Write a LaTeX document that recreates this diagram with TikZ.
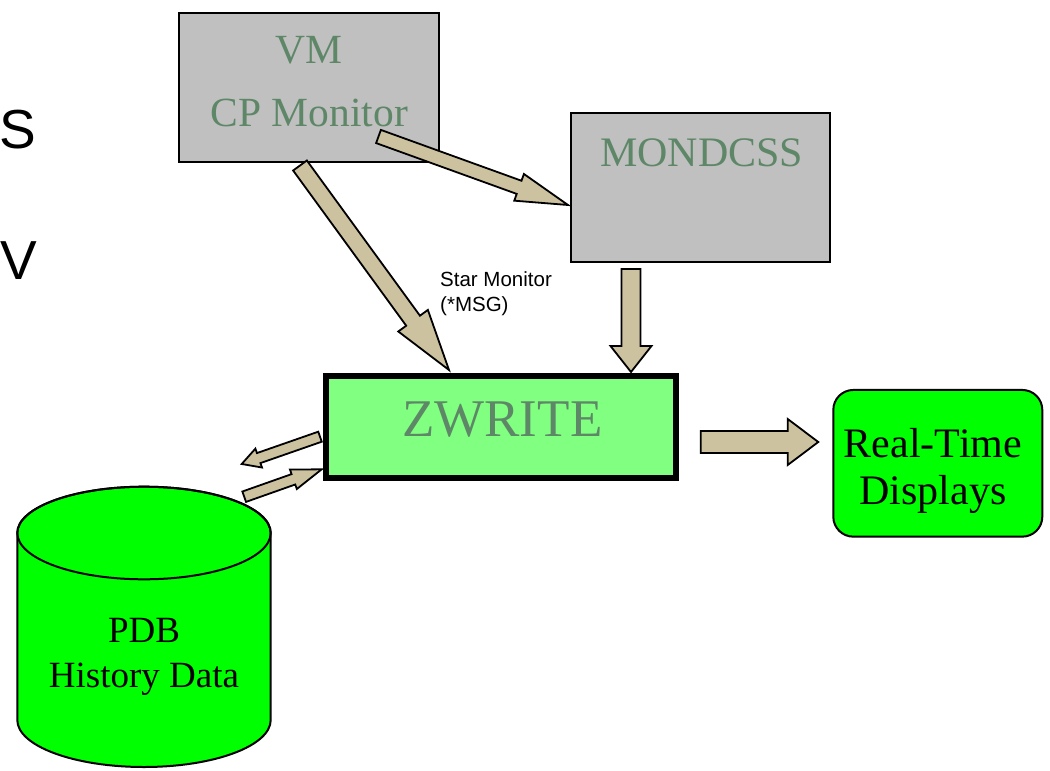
\documentclass[tikz,border=0pt]{standalone}
\usepackage{fontspec}
\setmainfont{Liberation Serif}
\newfontfamily\arialfont{Liberation Sans}
\usetikzlibrary{calc}
\definecolor{boxgray}{RGB}{192,192,192}
\definecolor{labelgreen}{RGB}{94,135,104}
\definecolor{arrowtan}{RGB}{204,194,160}
\definecolor{zwgreen}{RGB}{128,255,128}
\definecolor{brightgreen}{RGB}{0,255,0}
\newcommand{\thinline}{2pt}
% block arrow: start, tip, half shaft, half head, head length
\newcommand{\fatarrow}[5]{%
  \coordinate (fa-b) at ($(#2)!#5!(#1)$);
  \draw[arrowbody] ($(#1)!#3!90:(#2)$) -- ($(fa-b)!#3!90:(#2)$) -- ($(fa-b)!#4!90:(#2)$) -- (#2)
    -- ($(fa-b)!#4!-90:(#2)$) -- ($(fa-b)!#3!-90:(#2)$) -- ($(#1)!#3!-90:(#2)$) -- cycle;
}

\begin{document}
\begin{tikzpicture}[x=1pt, y=-1pt,
    graybox/.style={draw, line width=\thinline, fill=boxgray, inner sep=0},
    boxtext/.style={text=labelgreen, inner sep=0, align=center},
    arrowbody/.style={draw, line width=1.8pt, fill=arrowtan, line join=miter}]
    \useasboundingbox (0,0) rectangle (1050,771);

    % title letters at the left edge
    \node[inner sep=0, font=\arialfont\fontsize{55}{60}\selectfont, anchor=north west] (sletter) at (-0.5,110) {S};
    \node[inner sep=0, font=\arialfont\fontsize{55}{60}\selectfont, anchor=north west] (vletter) at (0.5,241) {V};

    % boxes
    \node[graybox, minimum width=260, minimum height=148.4] (vm) at (309.3,87.5) {};
    \node[boxtext, font=\fontsize{41.5}{63.4}\selectfont, anchor=north] (vmtext) at (309.3,36) {VM\\CP Monitor};

    \node[graybox, minimum width=259, minimum height=148.7] (mondcss) at (700.5,187.7) {};
    \node[boxtext, font=\fontsize{42}{50}\selectfont, anchor=north] (mondtext) at (701.7,138) {MONDCSS};

    \node[draw, line width=6pt, fill=zwgreen, inner sep=0, minimum width=350, minimum height=102] (zwrite) at (501.3,426.7) {};
    \node[boxtext, font=\fontsize{53}{60}\selectfont, anchor=north] (zwtext) at (502.3,401.5) {ZWRITE};

    \node[draw, line width=\thinline, fill=brightgreen, rounded corners=20pt, inner sep=0,
          minimum width=209, minimum height=146.7] (rtd) at (937.8,463.3) {};
    \node[inner sep=0, align=center, font=\fontsize{42}{47}\selectfont, anchor=north] (rttext) at (933,428.5) {Real-Time\\Displays};

    % database
    \draw[line width=\thinline, fill=brightgreen] (17.3,533) -- (17.3,720)
        arc[start angle=180, end angle=0, x radius=126.7, y radius=47] -- (270.7,533)
        arc[start angle=0, end angle=-180, x radius=126.7, y radius=46.3] -- cycle;
    \draw[line width=\thinline] (144,533) ellipse [x radius=126.7, y radius=46.3];
    \node[inner sep=0, align=center, font=\fontsize{37}{45}\selectfont, anchor=north] (pdbtext) at (144,618.5) {PDB\\History Data};

    \node[inner sep=0, align=left, font=\arialfont\fontsize{20.5}{25.7}\selectfont, anchor=north west] (starlbl) at (440,271) {Star Monitor\\(*MSG)};

    % arrow ends
    \coordinate (vmz-s) at (300,165.5);
    \coordinate (vmz-e) at (449,370);
    \coordinate (vmm-s) at (378.5,136.5);
    \coordinate (vmm-e) at (568,205);
    \coordinate (mz-s) at (631,269);
    \coordinate (mz-e) at (631,372);
    \coordinate (zr-s) at (700.7,442);
    \coordinate (zr-e) at (818.3,442);
    \coordinate (zp-s) at (320,436.7);
    \coordinate (zp-e) at (241.7,464);
    \coordinate (pz-s) at (244.2,496.7);
    \coordinate (pz-e) at (321.7,469.3);

    \fatarrow{vmz-s}{vmz-e}{8.5pt}{18.3pt}{61pt}
    \fatarrow{vmm-s}{vmm-e}{7pt}{14.2pt}{52pt}
    \fatarrow{mz-s}{mz-e}{9.5pt}{20.5pt}{26pt}
    \fatarrow{zr-s}{zr-e}{11pt}{23pt}{30.6pt}
    \fatarrow{zp-s}{zp-e}{5.3pt}{10pt}{18pt}
    \fatarrow{pz-s}{pz-e}{5.5pt}{10.3pt}{30pt}
\end{tikzpicture}
\end{document}
